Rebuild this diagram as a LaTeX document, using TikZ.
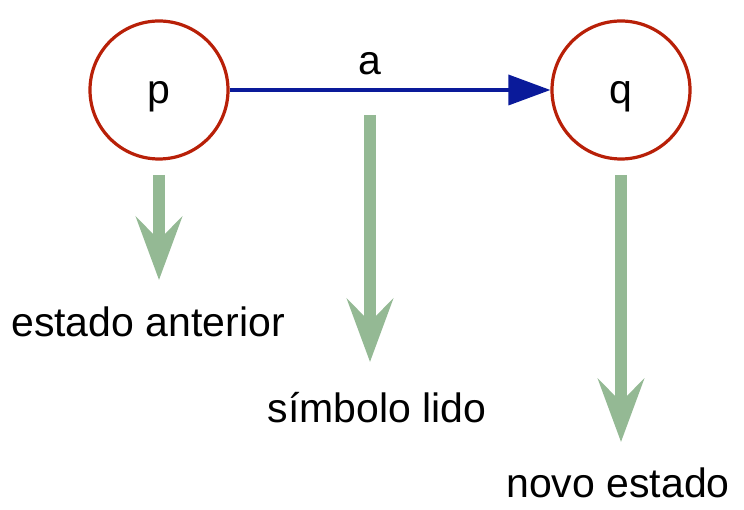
\documentclass[tikz,border=0pt]{standalone}
\usepackage{fontspec}
\setmainfont{Liberation Sans}
\usetikzlibrary{arrows.meta}
\definecolor{staterim}{RGB}{184,32,8}
\definecolor{edgeblue}{RGB}{10,26,154}
\definecolor{pointgreen}{RGB}{148,185,148}
\tikzset{
	state/.style={circle, draw=staterim, line width=3.2pt, minimum size=138pt, inner sep=0pt,
			text height=28pt, text depth=0pt},
	transition/.style={draw=edgeblue, line width=3.6pt, -{Triangle[length=42pt,width=30pt]}},
	pointer/.style={draw=pointgreen, line width=12pt, -{Stealth[length=63pt,width=46pt,inset=23pt]}},
	caption/.style={anchor=base, inner sep=0pt}
}

\begin{document}
\begin{tikzpicture}[x=1pt,y=-1pt]
			\fontsize{41}{49}\selectfont
			\useasboundingbox (0,0) rectangle (744,510);

			% States
			\node[state] (p) at (159,90) {p};
			\node[state] (q) at (621,90) {q};

			% Transition
			\draw[transition] (p) -- (q);
			\node[caption] (a) at (370,75) {a};

			% Points
			\coordinate (P0) at (159,175);
			\coordinate (P1) at (159,280);
			\coordinate (A0) at (370,115);
			\coordinate (A1) at (370,362);
			\coordinate (Q0) at (621,175);
			\coordinate (Q1) at (621,442);

			% Pointers
			\draw[pointer] (P0) -- (P1);
			\draw[pointer] (A0) -- (A1);
			\draw[pointer] (Q0) -- (Q1);

			% Captions
			\node[caption] (ant) at (148,337) {estado anterior};
			\node[caption] (sym) at (377,422) {símbolo lido};
			\node[caption] (nov) at (618,497) {novo estado};
		\end{tikzpicture}
\end{document}
